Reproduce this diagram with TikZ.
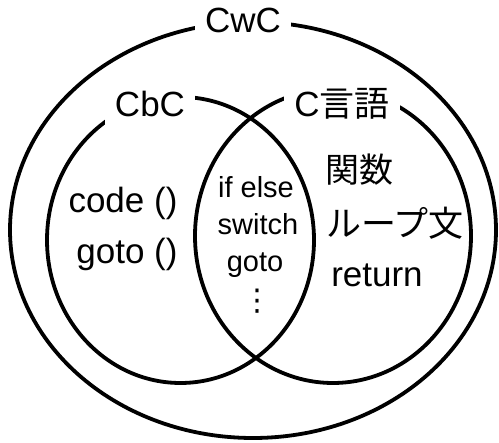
\documentclass[tikz,border=0pt]{standalone}
\usepackage{fontspec}
\setmainfont{Liberation Sans}
\newfontfamily\jpfont{Noto Sans CJK JP}
\newfontfamily\symfont{DejaVu Sans}
\begin{document}
\begin{tikzpicture}[x=1pt,y=-1pt,
  ring/.style={line width=3.8pt},
  big/.style={font=\fontsize{35}{40}\selectfont, inner sep=0pt},
  small/.style={font=\fontsize{29}{34}\selectfont, inner sep=0pt},
  setname/.style={big, fill=white, inner xsep=10pt, inner ysep=8pt}]
\useasboundingbox (0,0) rectangle (499,443);
% outer set and the two overlapping sets
\draw[ring] (253,230) ellipse [x radius=243, y radius=208];
\draw[ring] (180.5,240) ellipse [x radius=133.5, y radius=143];
\draw[ring] (333,236) ellipse [x radius=138, y radius=147];
% set names, cut into the outlines
\node[setname, anchor=base] (cwc) at (243,33) {CwC};
\node[setname, anchor=base] (cbc) at (150,117) {CbC};
\node[setname, anchor=base] (clang) at (342,117) {C{\jpfont 言語}};
% CbC only
\node[big, anchor=base] (code) at (123,213) {code ()};
\node[big, anchor=base] (gotoc) at (127,264) {goto ()};
% shared part
\node[small, anchor=base] (ifelse) at (256,198) {if else};
\node[small, anchor=base] (switch) at (258,235) {switch};
\node[small, anchor=base] (gotos) at (255,272) {goto};
% vertical ellipsis
\node[font=\fontsize{30}{34}\selectfont\symfont, inner sep=0pt] (more) at (257,301) {⋮};
% C only
\node[big, inner sep=0pt, font=\fontsize{34}{40}\selectfont\jpfont] (func) at (359,170) {関数};
\node[big, inner sep=0pt, font=\fontsize{35}{40}\selectfont\jpfont] (loop) at (395,223) {ループ文};
\node[big, anchor=base] (ret) at (377,287) {return};
\end{tikzpicture}
\end{document}
